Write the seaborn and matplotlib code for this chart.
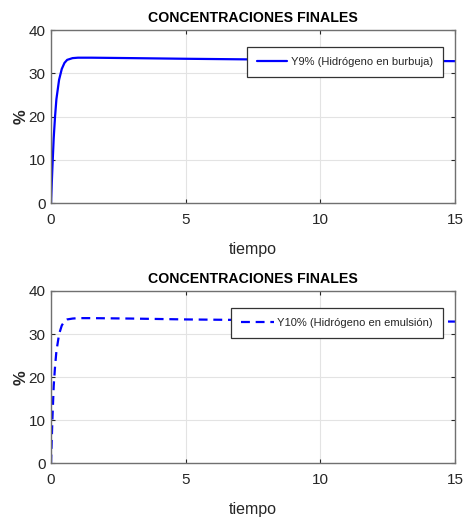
import numpy as np
import pandas as pd
import matplotlib
matplotlib.use("Agg")
import matplotlib.pyplot as plt
import seaborn as sns

# Time samples and hydrogen concentrations (%)
tiempo = [0.0, 0.05, 0.1, 0.15, 0.2, 0.3, 0.4, 0.5, 0.6, 0.8, 1.0, 1.5, 3.0, 5.0, 7.5, 10.0, 12.5, 15.0]
y9 = [0.0, 8.0, 15.0, 20.0, 24.0, 28.5, 31.0, 32.4, 33.1, 33.5, 33.6, 33.6, 33.5, 33.35, 33.2, 33.0, 32.9, 32.8]
y10 = [0.0, 10.0, 18.0, 22.5, 26.0, 30.0, 32.0, 33.0, 33.4, 33.6, 33.7, 33.7, 33.6, 33.4, 33.25, 33.1, 33.0, 32.9]

titulo = "CONCENTRACIONES FINALES"
etiquetas = ["Y9% (Hidrógeno en burbuja)", "Y10% (Hidrógeno en emulsión)"]
xticks = [0, 5, 10, 15]
yticks = [0, 10, 20, 30, 40]

sns.set_theme(style="white")
plt.rcParams["font.family"] = ["Liberation Sans", "DejaVu Sans"]

fig = plt.figure(figsize=(4.65, 5.22), dpi=100)
ax1 = fig.add_axes([0.1097, 0.6111, 0.8688, 0.3314])
ax2 = fig.add_axes([0.1097, 0.1121, 0.8688, 0.3305])

df1 = pd.DataFrame({"tiempo": tiempo, "valor": y9})
df2 = pd.DataFrame({"tiempo": tiempo, "valor": y10})

sns.lineplot(data=df1, x="tiempo", y="valor", ax=ax1, color="#0000ff",
             linewidth=1.6, label=etiquetas[0])
sns.lineplot(data=df2, x="tiempo", y="valor", ax=ax2, color="#0000ff",
             linewidth=1.6, linestyle=(0, (4.0, 2.6)), label=etiquetas[1])

axis_col = "#262626"
for ax, hl in ((ax1, 2.7), (ax2, 3.0)):
    ax.set_xlim(0, 15)
    ax.set_ylim(0, 40)
    ax.set_xticks(xticks)
    ax.set_yticks(yticks)
    ax.grid(True, color="#e3e3e3", linewidth=0.8)
    ax.set_axisbelow(True)
    for s in ax.spines.values():
        s.set_visible(True)
        s.set_color("#707070")
        s.set_linewidth(1.0)
    ax.tick_params(direction="in", length=3, width=0.8, colors=axis_col,
                   labelsize=11, top=True, right=True, bottom=True, left=True)
    ax.tick_params(axis="x", pad=7)
    ax.tick_params(axis="y", pad=4)
    ax.set_title(titulo, fontsize=10.2, fontweight="bold", color="black", pad=6)
    ax.set_xlabel("tiempo", fontsize=11.5, color=axis_col, labelpad=11)
    ax.set_ylabel("%", fontsize=12, color=axis_col, fontweight="bold", labelpad=0)
    leg = ax.legend(loc="upper right", bbox_to_anchor=(0.970, 0.902),
                    fontsize=8, frameon=True, fancybox=False, framealpha=1,
                    handlelength=hl, borderpad=0.9, handletextpad=0.3,
                    borderaxespad=0)
    leg.get_frame().set_edgecolor("#333333")
    leg.get_frame().set_linewidth(0.9)
    for t in leg.get_texts():
        t.set_color(axis_col)

fig.savefig("out.png", dpi=100, facecolor="white")
